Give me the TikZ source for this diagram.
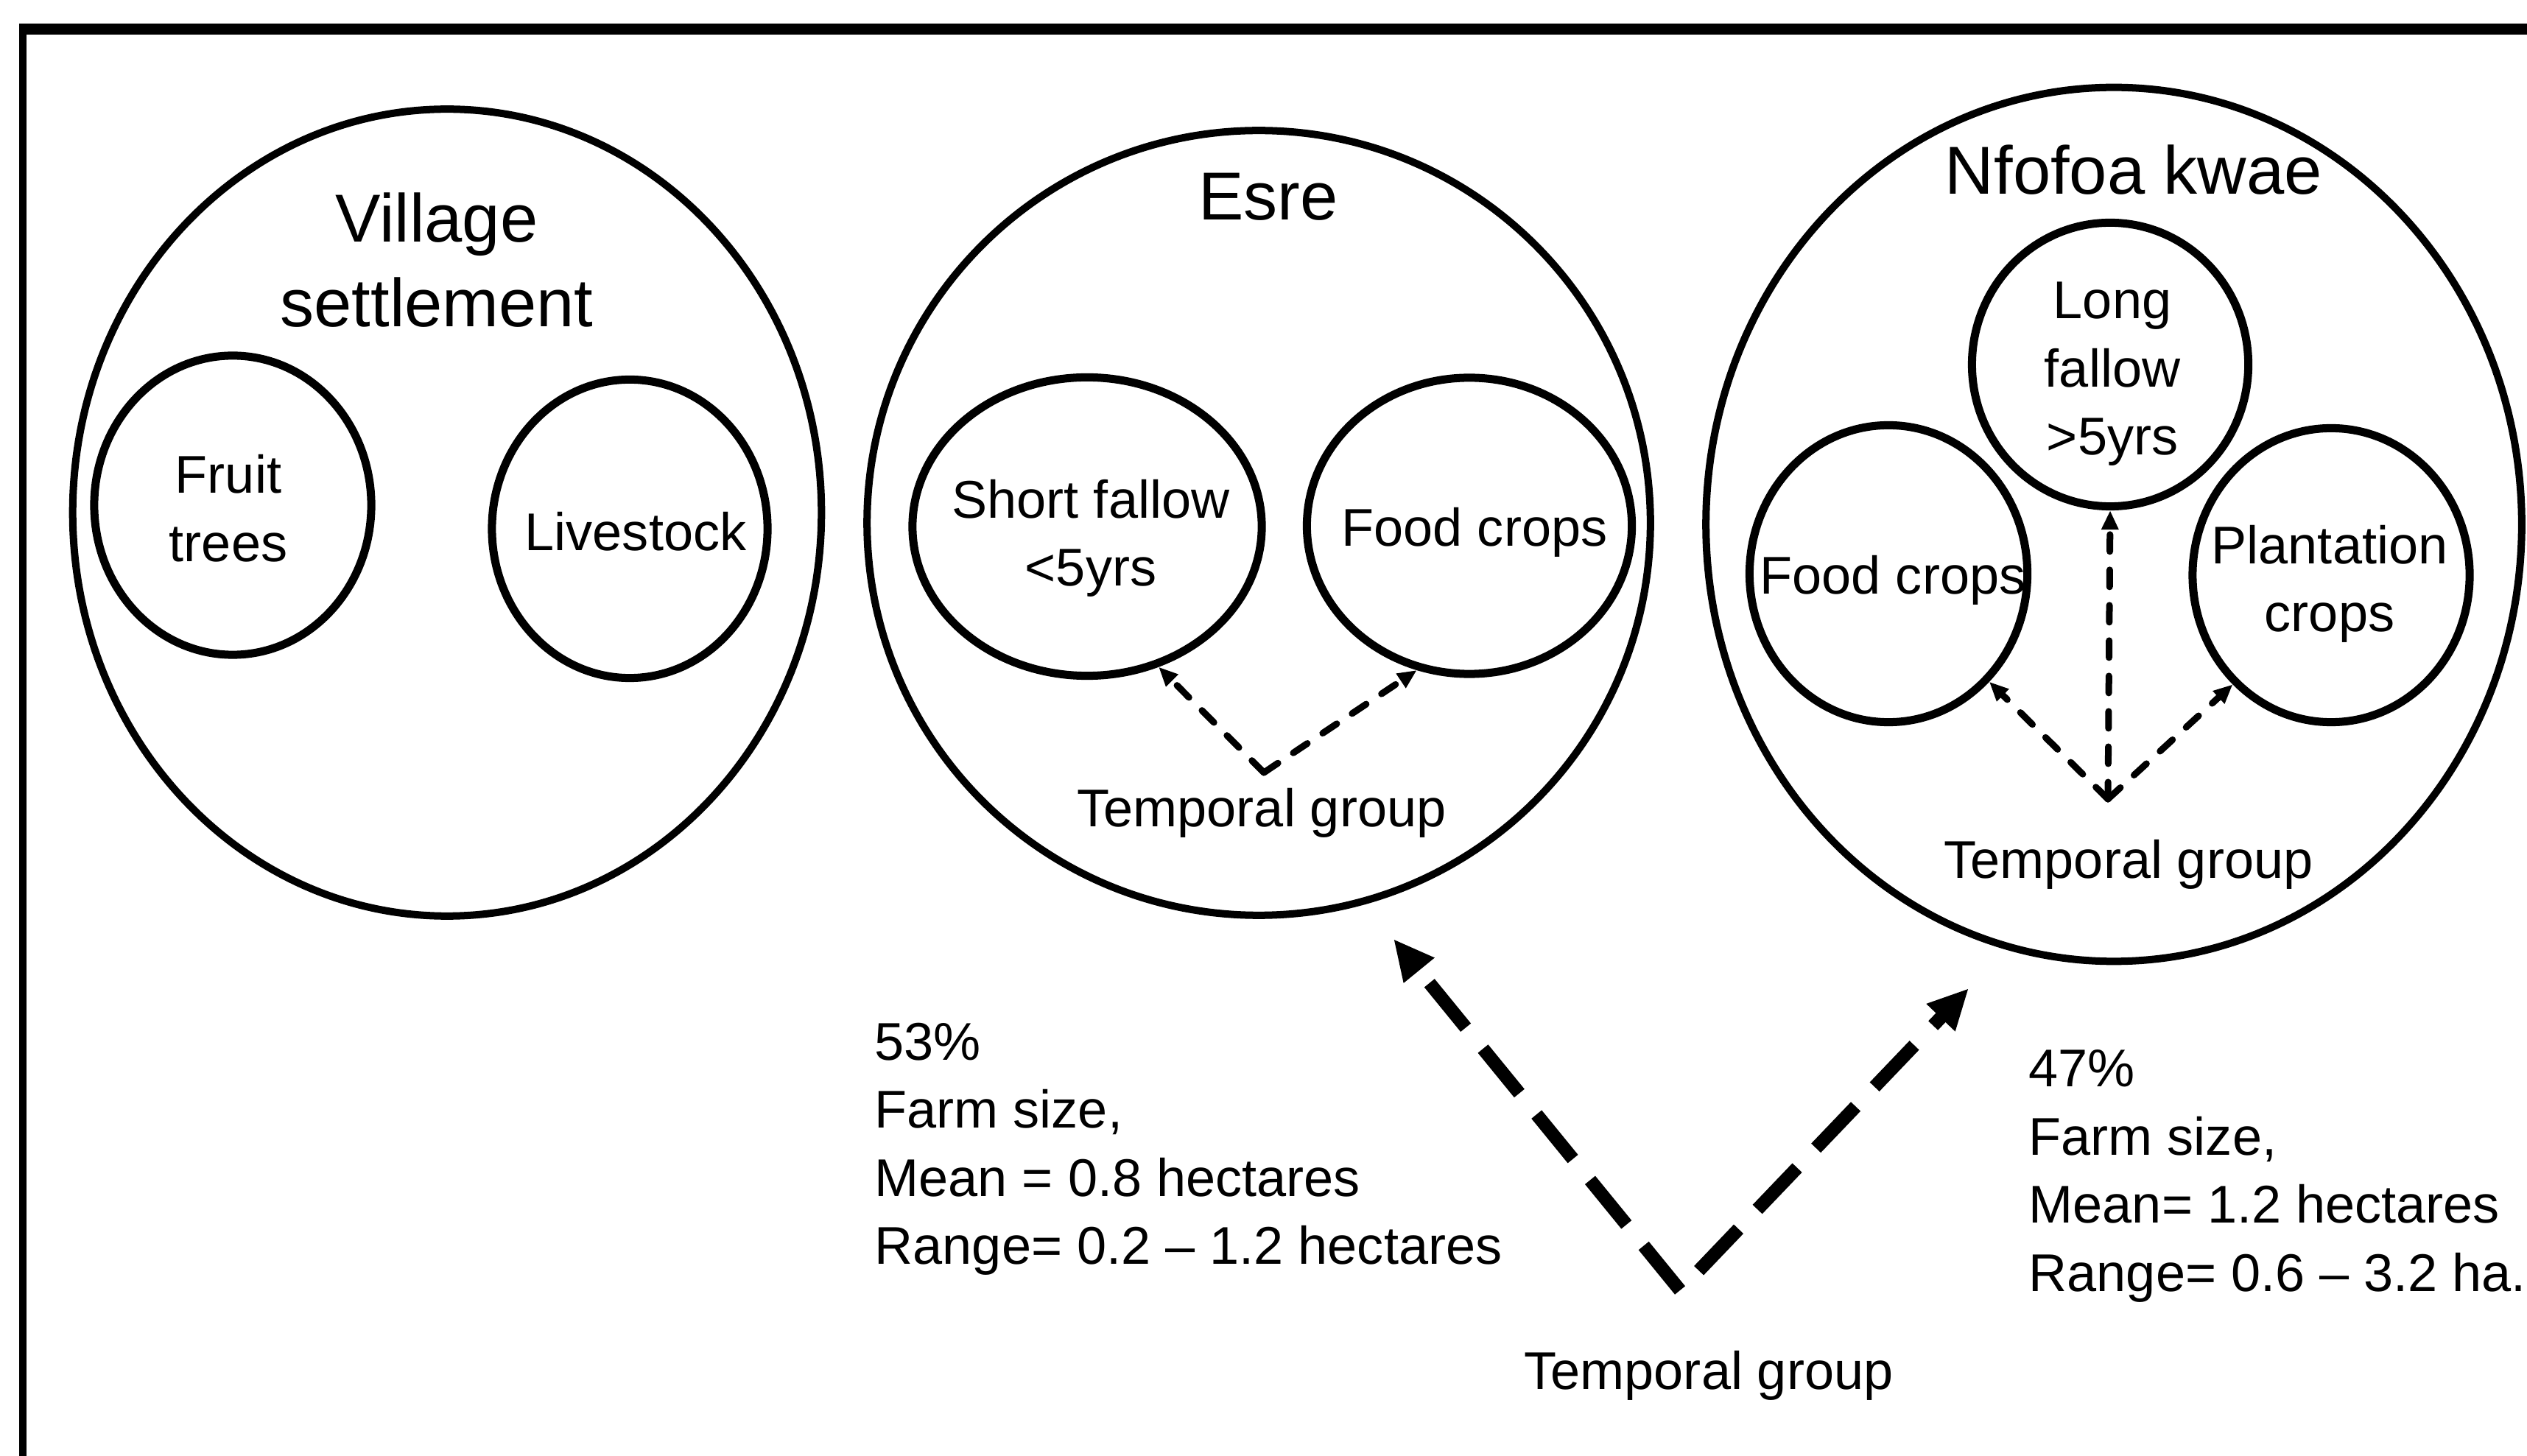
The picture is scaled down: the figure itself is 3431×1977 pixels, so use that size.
\documentclass[tikz,border=0pt]{standalone}
\usepackage{fontspec}
\setmainfont{Liberation Sans}
\usetikzlibrary{shapes.geometric,arrows.meta}

\tikzset{
  zone/.style={draw, ellipse, line width=0.1cm, inner sep=0pt},
  part/.style={draw, ellipse, line width=0.11cm, inner sep=0pt},
  heading/.style={inner sep=0pt, align=center, font=\fontsize{26.2pt}{32.7pt}\selectfont},
  txt/.style={inner sep=0pt, align=center, font=\fontsize{20.5pt}{26.3pt}\selectfont},
  stat/.style={inner sep=0pt, align=left, anchor=north west, font=\fontsize{20.5pt}{26.3pt}\selectfont},
  linkarrow/.style={line width=0.09cm, line cap=round, dash pattern=on 0.23cm off 0.25cm,
    -{Triangle[length=0.26cm,width=0.22cm]}},
  bigarrow/.style={line width=0.18cm, dash pattern=on 0.78cm off 0.37cm,
    -{Triangle[length=0.55cm,width=0.5cm]}},
}

\begin{document}
\begin{tikzpicture}[x=0.01cm, y=-0.01cm]
\useasboundingbox (0,0) rectangle (3431,1977);
\fill[white] (0,0) rectangle (3431,1977);

% frame (top and left edges)
\draw[line width=0.15cm] (26,40) -- (3431,40);
\draw[line width=0.1cm] (31,33) -- (31,1977);

% land-use zones
\node[zone, minimum width=10.16cm, minimum height=10.95cm] (village) at (607,696) {};
\node[zone, minimum width=10.63cm, minimum height=10.65cm] (esre) at (1709,710) {};
\node[zone, minimum width=11.07cm, minimum height=11.86cm] (nfofoa) at (2870,712) {};

% components inside each zone
\node[part, minimum width=3.76cm, minimum height=4.06cm] (fruit) at (316,686) {};
\node[part, minimum width=3.74cm, minimum height=4.05cm] (livestock) at (855,718) {};
\node[part, minimum width=4.74cm, minimum height=4.05cm] (shortf) at (1476,715) {};
\node[part, minimum width=4.41cm, minimum height=4.02cm] (efood) at (1995,714) {};
\node[part, minimum width=3.75cm, minimum height=3.85cm] (longf) at (2865,495) {};
\node[part, minimum width=3.77cm, minimum height=4.03cm] (nfood) at (2564,779) {};
\node[part, minimum width=3.76cm, minimum height=3.99cm] (plant) at (3165,781) {};

% zone titles
\node[heading] (villageT) at (593,353) {Village\\settlement};
\node[heading, anchor=base] (esreT) at (1722,299) {Esre};
\node[heading, anchor=base] (nfofoaT) at (2897,264) {Nfofoa kwae};

% component labels
\node[txt] (fruitT) at (310,690) {Fruit\\trees};
\node[txt, anchor=base] (livestockT) at (863,748) {Livestock};
\node[txt] (shortfT) at (1481,731) {Short fallow\\<5yrs};
\node[txt, anchor=base] (efoodT) at (2002,742) {Food crops};
\node[txt] (longfT) at (2868,508) {Long\\fallow\\>5yrs};
\node[txt, anchor=base] (nfoodT) at (2570,807) {Food crops};
\node[txt] (plantT) at (3163,793) {Plantation\\crops};

% temporal group labels
\node[txt, anchor=base] (esreGrp) at (1713,1122) {Temporal group};
\node[txt, anchor=base] (nfGrp) at (2890,1192) {Temporal group};
\node[txt, anchor=base] (mainGrp) at (2320,1886) {Temporal group};

% farm size statistics
\node[stat] (esreStat) at (1187,1388) {53\%\\Farm size,\\Mean = 0.8 hectares\\Range= 0.2 -- 1.2 hectares};
\node[stat] (nfStat) at (2754,1425) {47\%\\Farm size,\\Mean= 1.2 hectares\\Range= 0.6 -- 3.2 ha.};

% rotation links inside Esre
\coordinate (esreApex) at (1716,1049);
\draw[linkarrow] (esreApex) -- (shortf.-63);
\draw[linkarrow] (esreApex) -- (efood.-110);

% rotation links inside Nfofoa kwae
\coordinate (nfApex) at (2862,1085);
\draw[linkarrow] (nfApex) -- (longf.south);
\draw[linkarrow] (nfApex) -- (nfood.-47);
\draw[linkarrow] (nfApex) -- (plant.-132);

% split between the two farm zones
\coordinate (mainApex) at (2281,1752);
\coordinate (toEsre) at (1892,1275);
\coordinate (toNf) at (2673,1342);
\draw[bigarrow] (mainApex) -- (toEsre);
\draw[bigarrow, dash phase=0.78cm] (mainApex) -- (toNf);
\end{tikzpicture}
\end{document}
